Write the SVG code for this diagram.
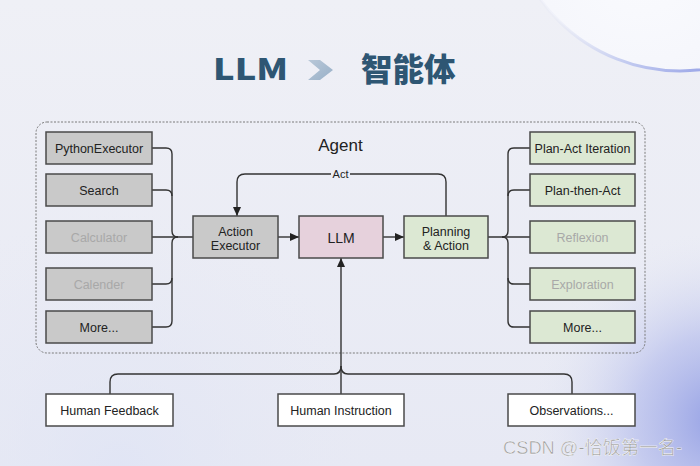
<svg xmlns="http://www.w3.org/2000/svg" width="700" height="466" viewBox="0 0 700 466">
<defs>
<linearGradient id="bg" x1="0" y1="0" x2="0" y2="1">
<stop offset="0" stop-color="#eff0f6"/>
<stop offset="1" stop-color="#e7e9f4"/>
</linearGradient>
<radialGradient id="glow" cx="720" cy="420" r="190" gradientUnits="userSpaceOnUse">
<stop offset="0" stop-color="#8f9be3" stop-opacity="0.95"/>
<stop offset="0.45" stop-color="#a9b2ea" stop-opacity="0.55"/>
<stop offset="1" stop-color="#e7e9f4" stop-opacity="0"/>
</radialGradient>
<radialGradient id="glow2" cx="120" cy="470" r="260" gradientUnits="userSpaceOnUse">
<stop offset="0" stop-color="#dfe4f5" stop-opacity="0.8"/>
<stop offset="1" stop-color="#e7e9f4" stop-opacity="0"/>
</radialGradient>
<linearGradient id="rim" x1="560" y1="0" x2="700" y2="70" gradientUnits="userSpaceOnUse">
<stop offset="0" stop-color="#e3e6f4" stop-opacity="0.3"/>
<stop offset="0.55" stop-color="#c3cbf0"/>
<stop offset="1" stop-color="#9ea9e8"/>
</linearGradient>
<radialGradient id="bubble" cx="640" cy="-40" r="190" gradientUnits="userSpaceOnUse">
<stop offset="0" stop-color="#fafbfe"/>
<stop offset="0.8" stop-color="#f4f5fb"/>
<stop offset="1" stop-color="#eceef8"/>
</radialGradient>
<linearGradient id="chev" x1="0" y1="0" x2="1" y2="1">
<stop offset="0" stop-color="#b9c8d8"/>
<stop offset="1" stop-color="#98b0c8"/>
</linearGradient>
<marker id="arr" markerWidth="9" markerHeight="8" refX="9" refY="4" orient="auto" markerUnits="userSpaceOnUse">
<path d="M0,0 L9,4 L0,8 z" fill="#222"/>
</marker>
<style>
.box{stroke:#4a4a4a;stroke-width:1.5}
.gray{fill:#c9c9c9}
.green{fill:#dce8d3}
.pink{fill:#e6d1dc}
.white{fill:#ffffff}
.t{font-family:"Liberation Sans",Arial,sans-serif;font-size:12.5px;fill:#222;text-anchor:middle}
.dim{fill:#a8a8a8}
.conn{fill:none;stroke:#333;stroke-width:1.4}
.title{font-weight:900;fill:#2e5673}
</style>
</defs>

<rect x="0" y="0" width="700" height="466" fill="url(#bg)"/>
<rect x="0" y="0" width="700" height="466" fill="url(#glow2)"/>
<rect x="0" y="0" width="700" height="466" fill="url(#glow)"/>
<circle cx="680" cy="-101" r="172" fill="url(#bubble)" stroke="url(#rim)" stroke-width="3"/>

<g id="title">
<text transform="translate(213,80) scale(1.25,1)" x="0" y="0" class="title" font-family="'Noto Sans CJK SC','Liberation Sans',sans-serif" font-size="29">LLM</text>
<path d="M308,60 L320,60 L333,70 L320,80 L308,80 L320,70 z" fill="url(#chev)"/>
<text x="361" y="81" class="title" font-family="'Noto Sans CJK SC',sans-serif" font-size="31.5">智能体</text>
</g>

<g id="agent">
<rect x="36" y="122" width="609" height="231" rx="11" fill="none" stroke="#7a7a7a" stroke-width="1" stroke-dasharray="2 1.5"/>
<text x="340.5" y="151" class="t" style="font-size:17px">Agent</text>
</g>

<g id="connectors">
<path class="conn" d="M152,148 H166 Q172,148 172,154 V231 Q172,237 178,237"/>
<path class="conn" d="M152,190 H166 Q172,190 172,196"/>
<path class="conn" d="M152,237 H193"/>
<path class="conn" d="M152,284 H166 Q172,284 172,278"/>
<path class="conn" d="M152,327 H166 Q172,327 172,321 V243 Q172,237 178,237"/>
<path class="conn" d="M278,237 H299" marker-end="url(#arr)"/>
<path class="conn" d="M383,237 H404" marker-end="url(#arr)"/>
<path class="conn" d="M446,216 V182 Q446,174 438,174 H350"/>
<path class="conn" d="M331,174 H245 Q237,174 237,182 V216" marker-end="url(#arr)"/>
<text x="340.5" y="178" class="t" style="font-size:11px">Act</text>
<path class="conn" d="M488,237 H530"/>
<path class="conn" d="M502,237 Q508,237 508,231 V154 Q508,148 514,148 H530"/>
<path class="conn" d="M508,196 Q508,190 514,190 H530"/>
<path class="conn" d="M502,237 Q508,237 508,243 V321 Q508,327 514,327 H530"/>
<path class="conn" d="M508,278 Q508,284 514,284 H530"/>
<path class="conn" d="M341,394 V258" marker-end="url(#arr)"/>
<path class="conn" d="M110,394 V382 Q110,374 118,374 H334 Q341,374 341,366"/>
<path class="conn" d="M572,394 V382 Q572,374 564,374 H348 Q341,374 341,366"/>
</g>

<g id="python-executor"><rect class="box gray" x="46" y="132" width="106" height="32"/><text class="t" x="99" y="152.5">PythonExecutor</text></g>
<g id="search"><rect class="box gray" x="46" y="174" width="106" height="32"/><text class="t" x="99" y="194.5">Search</text></g>
<g id="calculator"><rect class="box gray" x="46" y="221" width="106" height="32"/><text class="t dim" x="99" y="241.5">Calculator</text></g>
<g id="calender"><rect class="box gray" x="46" y="268" width="106" height="32"/><text class="t dim" x="99" y="288.5">Calender</text></g>
<g id="more-left"><rect class="box gray" x="46" y="311" width="106" height="32"/><text class="t" x="99" y="331.5">More...</text></g>

<g id="action-executor"><rect class="box gray" x="193" y="216" width="85" height="42"/><text class="t" x="235.5" y="235.5">Action</text><text class="t" x="235.5" y="250">Executor</text></g>
<g id="llm"><rect class="box pink" x="299" y="216" width="84" height="42"/><text class="t" x="341" y="243" style="font-size:14px">LLM</text></g>
<g id="planning-action"><rect class="box green" x="404" y="216" width="84" height="42"/><text class="t" x="446" y="235.5">Planning</text><text class="t" x="446" y="250">&amp; Action</text></g>

<g id="plan-act-iteration"><rect class="box green" x="530" y="132" width="105" height="32"/><text class="t" x="582.5" y="152.5">Plan-Act Iteration</text></g>
<g id="plan-then-act"><rect class="box green" x="530" y="174" width="105" height="32"/><text class="t" x="582.5" y="194.5">Plan-then-Act</text></g>
<g id="reflexion"><rect class="box green" x="530" y="221" width="105" height="32"/><text class="t dim" x="582.5" y="241.5">Reflexion</text></g>
<g id="exploration"><rect class="box green" x="530" y="268" width="105" height="32"/><text class="t dim" x="582.5" y="288.5">Exploration</text></g>
<g id="more-right"><rect class="box green" x="530" y="311" width="105" height="32"/><text class="t" x="582.5" y="331.5">More...</text></g>

<g id="human-feedback"><rect class="box white" x="46" y="394" width="127" height="32"/><text class="t" x="109.5" y="414.5">Human Feedback</text></g>
<g id="human-instruction"><rect class="box white" x="278" y="394" width="126" height="32"/><text class="t" x="341" y="414.5">Human Instruction</text></g>
<g id="observations"><rect class="box white" x="508" y="394" width="127" height="32"/><text class="t" x="571.5" y="414.5">Observations...</text></g>

<text x="503" y="454" font-family="'Liberation Sans','Noto Sans CJK SC',sans-serif" font-size="18" fill="#9c9c9c" stroke="#ffffff" stroke-width="0.4" textLength="179" lengthAdjust="spacingAndGlyphs">CSDN @-恰饭第一名-</text>
</svg>
